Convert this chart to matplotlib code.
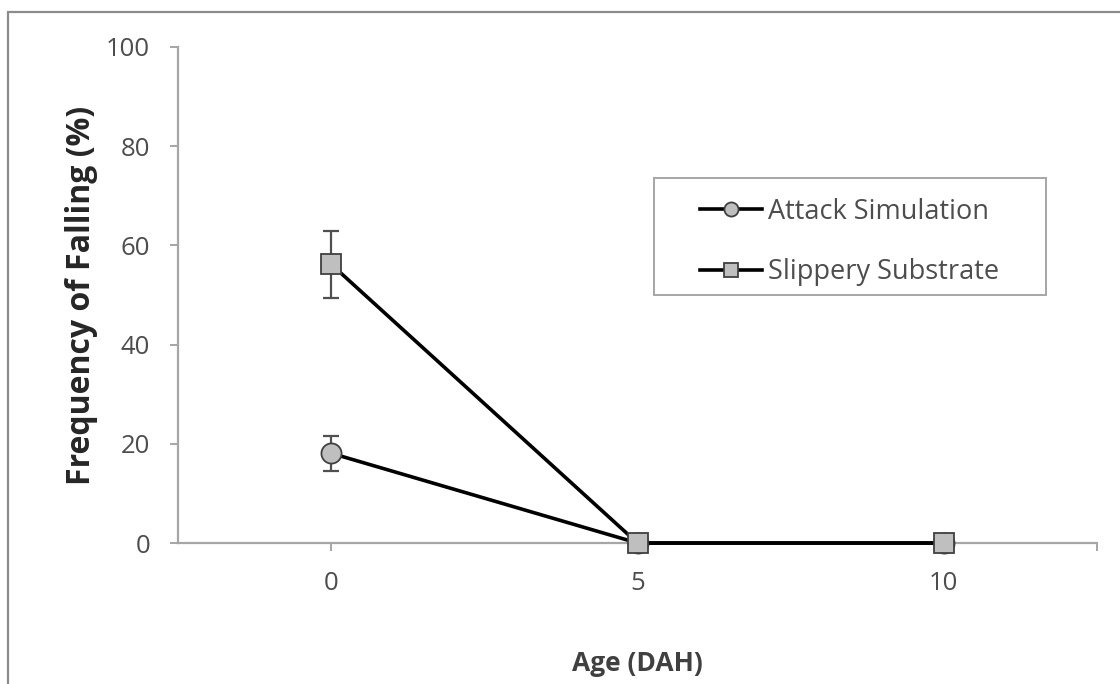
import matplotlib
matplotlib.use("Agg")
import matplotlib.pyplot as plt
from matplotlib.patches import Rectangle

plt.rcParams['font.family'] = ['Open Sans', 'DejaVu Sans']

# Age in days after hatching
ages = [0, 5, 10]

attack_mean = [18.1, 0.0, 0.0]
attack_err = [3.5, 0.0, 0.0]

slippery_mean = [56.2, 0.0, 0.0]
slippery_err = [6.8, 0.0, 0.0]

y_ticks = [0, 20, 40, 60, 80, 100]

axis_grey = '#a6a6a6'
text_grey = '#4d4d4d'
marker_fill = '#bfbfbf'
marker_edge = '#404040'

fig = plt.figure(figsize=(11.2, 6.84), dpi=100)
ax = fig.add_axes([0.1589, 0.2061, 0.8206, 0.7252])

# outer chart frame (only left and top edges fall inside the image)
fig.patches.append(Rectangle((8 / 1120, -0.1), 1.2, 1 - 12 / 684 + 0.1,
                             transform=fig.transFigure, fill=False,
                             edgecolor='#8c8c8c', linewidth=1.6, zorder=0))

for mean, err in [(attack_mean, attack_err), (slippery_mean, slippery_err)]:
    ax.errorbar(ages, mean, yerr=err, fmt='none', ecolor='#505050',
                elinewidth=1.6, capsize=5.8, capthick=1.6, zorder=2)

ax.plot(ages, attack_mean, color='black', linewidth=2.6, marker='o',
        markersize=14.5, markerfacecolor=marker_fill, markeredgecolor=marker_edge,
        markeredgewidth=1.3, label='Attack Simulation', zorder=3, clip_on=False)
ax.plot(ages, slippery_mean, color='black', linewidth=2.6, marker='s',
        markersize=15, markerfacecolor=marker_fill, markeredgecolor=marker_edge,
        markeredgewidth=1.3, label='Slippery Substrate', zorder=4, clip_on=False)

ax.set_xlim(-2.5, 12.5)
ax.set_ylim(0, 100)
ax.set_yticks(y_ticks)
ax.set_xticks(ages)
ax.set_xticks([12.5], minor=True)

for side in ['top', 'right']:
    ax.spines[side].set_visible(False)
for side in ['left', 'bottom']:
    ax.spines[side].set_color(axis_grey)
    ax.spines[side].set_linewidth(1.6)

ax.tick_params(axis='both', which='both', direction='out', length=6,
               width=1.4, color=axis_grey, labelcolor=text_grey, labelsize=18.5)
ax.tick_params(axis='x', pad=14)
ax.tick_params(axis='y', pad=14)

ax.set_ylabel('Frequency of Falling (%)', fontsize=23, fontweight='bold',
              color='#262626', labelpad=6)
ax.set_xlabel('Age (DAH)', fontsize=19, fontweight='bold', color='#404040',
              labelpad=39)

# legend box drawn as its own rectangle, entries placed inside it
ax.add_patch(Rectangle((0.518, 0.5), 0.4265, 0.2359, transform=ax.transAxes,
                       facecolor='white', edgecolor=axis_grey, linewidth=1.4,
                       zorder=5))
leg = ax.legend(loc='upper left', bbox_to_anchor=(0.568, 0.696), fontsize=19.5,
                frameon=False, borderpad=0, borderaxespad=0,
                markerscale=0.7, handlelength=2.3, handletextpad=0.2,
                labelspacing=1.2, labelcolor=text_grey)
leg.set_zorder(6)

fig.savefig('out.png', dpi=100)
